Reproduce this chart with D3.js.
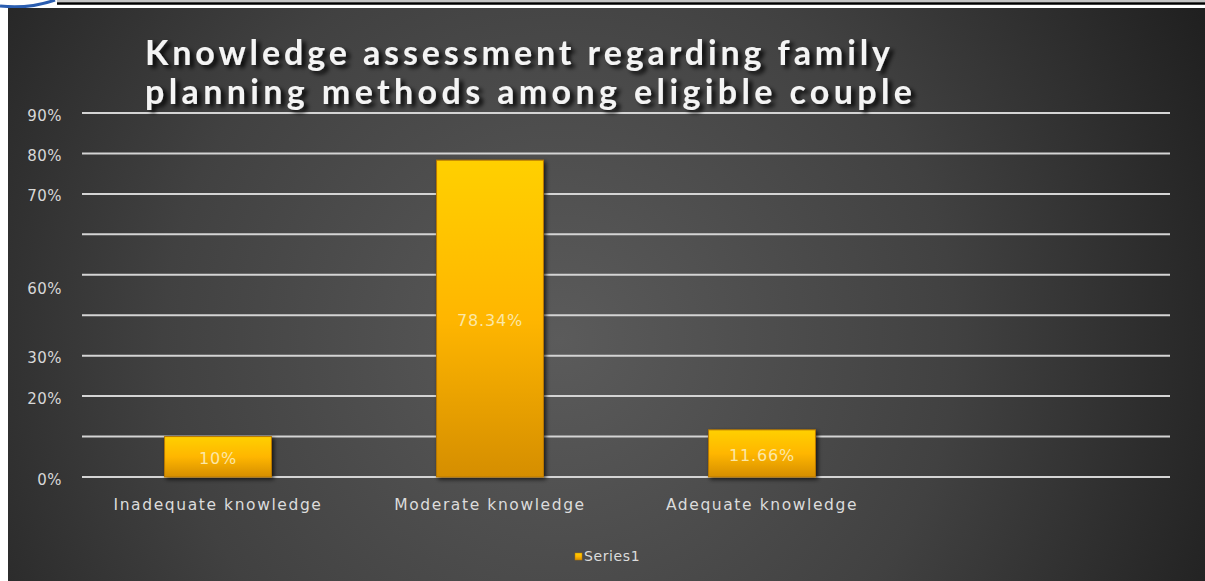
<!DOCTYPE html>
<html lang="en">
<head>
<meta charset="utf-8">
<title>Knowledge assessment regarding family planning methods</title>
<script src="https://cdn.jsdelivr.net/npm/d3@7"></script>
<style>
html,body{margin:0;padding:0;background:#fff;}
svg{display:block;}
</style>
</head>
<body>
<div id="chart"></div>
<script>
// data
var categories = ["Inadequate knowledge", "Moderate knowledge", "Adequate knowledge", ""];
var values = [10, 78.34, 11.66, null];
var valueLabels = ["10%", "78.34%", "11.66%", ""];
// the y labels in the source are not evenly placed
var tickLabels = ["0%", "20%", "30%", "60%", "70%", "80%", "90%"];
var tickLabelAt = [0, 20, 30, 47, 70, 80, 90];
var titleLines = ["Knowledge assessment regarding family", "planning methods among eligible couple"];
var seriesName = "Series1";

var width = 1205, height = 581;
var svg = d3.select("#chart").append("svg")
    .attr("width", width)
    .attr("height", height);

var defs = svg.append("defs");
var bg = defs.append("radialGradient").attr("id", "bg")
    .attr("gradientUnits", "userSpaceOnUse")
    .attr("cx", 560).attr("cy", 340).attr("r", 720);
bg.append("stop").attr("offset", "0").attr("stop-color", "#5b5b5b");
bg.append("stop").attr("offset", "0.55").attr("stop-color", "#414141");
bg.append("stop").attr("offset", "1").attr("stop-color", "#202020");

var barGrad = defs.append("linearGradient").attr("id", "bar")
    .attr("x1", 0).attr("y1", 0).attr("x2", 0).attr("y2", 1);
barGrad.append("stop").attr("offset", "0").attr("stop-color", "#ffd000");
barGrad.append("stop").attr("offset", "0.5").attr("stop-color", "#ffb600");
barGrad.append("stop").attr("offset", "1").attr("stop-color", "#d58e00");

var sh = defs.append("filter").attr("id", "shadow")
    .attr("x", "-20%").attr("y", "-20%").attr("width", "140%").attr("height", "140%");
sh.append("feDropShadow").attr("dx", 2).attr("dy", 2).attr("stdDeviation", 2)
    .attr("flood-color", "#000").attr("flood-opacity", 0.7);

var tsh = defs.append("filter").attr("id", "tshadow")
    .attr("x", "-5%").attr("y", "-30%").attr("width", "110%").attr("height", "160%");
tsh.append("feDropShadow").attr("dx", 4).attr("dy", 3).attr("stdDeviation", 2)
    .attr("flood-color", "#000").attr("flood-opacity", 0.9);

// page header bits
svg.append("path")
    .attr("d", "M0,6 Q30,9 55,0")
    .attr("fill", "none").attr("stroke", "#2a5db0").attr("stroke-width", 3);
svg.append("line").attr("x1", 57).attr("x2", width).attr("y1", 1).attr("y2", 1)
    .attr("stroke", "#888").attr("stroke-width", 1);
svg.append("line").attr("x1", 57).attr("x2", width).attr("y1", 3.5).attr("y2", 3.5)
    .attr("stroke", "#000").attr("stroke-width", 2.5);

// chart area
svg.append("rect").attr("x", 8).attr("y", 8)
    .attr("width", width - 8).attr("height", height - 8)
    .attr("fill", "url(#bg)");

var left = 82, right = 1170;
var x = d3.scaleBand().domain(d3.range(categories.length))
    .range([left, right]).paddingInner(0.607).paddingOuter(0.3035);
var y = d3.scaleLinear().domain([0, 90]).range([477, 113]);

// gridlines
svg.append("g").selectAll("line").data(y.ticks(9)).enter().append("line")
    .attr("x1", left).attr("x2", right)
    .attr("y1", function(d){ return y(d); })
    .attr("y2", function(d){ return y(d); })
    .attr("stroke", "#d4d4d4").attr("stroke-width", 2);

// y labels
svg.append("g").selectAll("text").data(tickLabels).enter().append("text")
    .attr("x", 62)
    .attr("y", function(d, i){ return y(tickLabelAt[i]) + 3; })
    .attr("text-anchor", "end")
    .attr("dominant-baseline", "middle")
    .attr("font-family", "DejaVu Sans, sans-serif")
    .attr("font-size", 15)
    .attr("letter-spacing", 0.5)
    .attr("fill", "#d8d8d8")
    .text(function(d){ return d; });

// bars
var bars = svg.append("g").selectAll("g").data(values).enter()
    .filter(function(d){ return d != null; })
    .append("g");
bars.append("rect")
    .attr("x", function(d, i){ return x(i); })
    .attr("y", function(d){ return y(d); })
    .attr("width", x.bandwidth())
    .attr("height", function(d){ return y(0) - y(d); })
    .attr("fill", "url(#bar)")
    .attr("stroke", "#b87800").attr("stroke-width", 1)
    .attr("filter", "url(#shadow)");
bars.append("text")
    .attr("x", function(d, i){ return x(i) + x.bandwidth() / 2; })
    .attr("y", function(d){ return (y(d) + y(0)) / 2 + 3; })
    .attr("text-anchor", "middle")
    .attr("dominant-baseline", "middle")
    .attr("font-family", "DejaVu Sans, sans-serif")
    .attr("font-size", 16)
    .attr("letter-spacing", 0.8)
    .attr("fill", "#fbe7a6")
    .text(function(d, i){ return valueLabels[i]; });

// category labels
svg.append("g").selectAll("text").data(categories).enter().append("text")
    .attr("x", function(d, i){ return x(i) + x.bandwidth() / 2; })
    .attr("y", 505)
    .attr("text-anchor", "middle")
    .attr("dominant-baseline", "middle")
    .attr("font-family", "DejaVu Sans, sans-serif")
    .attr("font-size", 15.5)
    .attr("letter-spacing", 1.6)
    .attr("fill", "#dcdcdc")
    .text(function(d){ return d; });

// title
svg.append("g").attr("filter", "url(#tshadow)")
  .selectAll("text").data(titleLines).enter().append("text")
    .attr("x", 145)
    .attr("y", function(d, i){ return 65 + i * 39; })
    .attr("font-family", "Lato, Open Sans, sans-serif")
    .attr("font-weight", "bold")
    .attr("font-size", 34)
    .attr("fill", "#f4f4f4")
    .attr("textLength", function(d, i){ return i == 0 ? 745 : 767; })
    .attr("lengthAdjust", "spacing")
    .text(function(d){ return d; });

// legend
var lg = svg.append("g").attr("transform", "translate(575,557)");
lg.append("rect").attr("x", 0).attr("y", -4).attr("width", 7).attr("height", 7)
    .attr("fill", "url(#bar)").attr("stroke", "#b87800").attr("stroke-width", 0.5);
lg.append("text").attr("x", 9).attr("y", 0)
    .attr("dominant-baseline", "middle")
    .attr("font-family", "DejaVu Sans, sans-serif")
    .attr("font-size", 14)
    .attr("letter-spacing", 0.6)
    .attr("fill", "#dcdcdc")
    .text(seriesName);
</script>
</body>
</html>
